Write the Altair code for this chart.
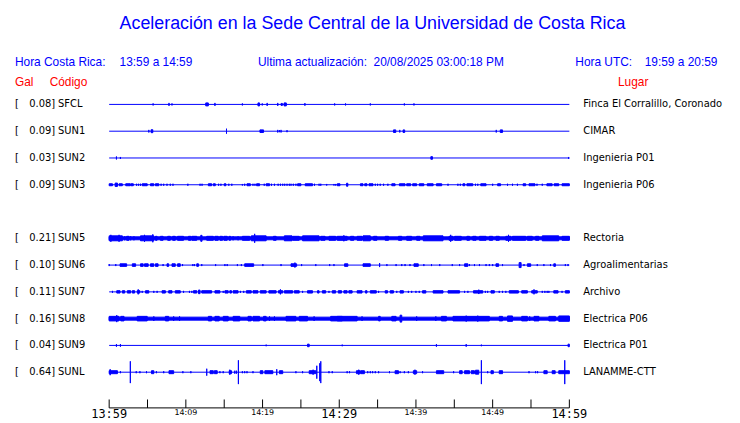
import altair as alt
import pandas as pd

BLUE = "#0000ff"
RED = "#ff0000"

# ---------------- data ----------------
stations = ["SFCL", "SUN1", "SUN2", "SUN3", "SUN5", "SUN6", "SUN7", "SUN8", "SUN9", "SUNL"]
gal = [0.08, 0.09, 0.03, 0.09, 0.21, 0.10, 0.11, 0.16, 0.04, 0.64]
places = ["Finca El Corralillo, Coronado", "CIMAR", "Ingenieria P01", "Ingenieria P06",
          "Rectoria", "Agroalimentarias", "Archivo", "Electrica P06", "Electrica P01", "LANAMME-CTT"]
rows = [0, 1, 2, 3, 5, 6, 7, 8, 9, 10]
record_start = 0     # minutes after 13:59
record_end = 60

tick_minutes = list(range(0, 61, 5))
label_minutes = [0, 10, 20, 30, 40, 50, 60]
label_texts = ["13:59", "14:09", "14:19", "14:29", "14:39", "14:49", "14:59"]
label_major = [True, False, False, True, False, False, True]

# events per trace: (start minute, end minute, half amplitude)
ev_SFCL = [(5.73, 5.73, 1), (7.80, 7.80, 1.5), (8.19, 8.19, 1), (12.59, 12.93, 1.5), (13.79, 13.79, 1.5),
           (17.37, 17.37, 1), (19.40, 19.61, 1.5), (19.96, 19.96, 1), (20.60, 20.60, 1.5), (21.98, 21.98, 1.5),
           (22.41, 22.59, 1), (22.80, 23.10, 1.5), (25.52, 25.52, 1.3), (29.40, 29.40, 1), (30.82, 30.82, 1),
           (34.05, 34.05, 1), (38.49, 38.49, 1), (39.74, 39.74, 1)]
ev_SUN1 = [(5.17, 5.17, 1.3), (5.47, 5.69, 1.5), (15.30, 15.30, 2.5), (19.66, 20.13, 1.3), (21.98, 21.98, 1.3),
           (22.20, 22.20, 1), (22.41, 22.41, 1.3), (23.19, 23.19, 1), (37.07, 37.37, 1.3), (37.89, 37.89, 1.3),
           (38.32, 38.53, 1.3), (50.47, 50.47, 1.3), (50.99, 51.29, 1.3)]
ev_SUN2 = [(0.95, 0.95, 1.5), (1.47, 1.47, 1), (41.94, 42.16, 1.3), (59.91, 59.91, 1)]
ev_SUN3 = [(0, 0.43, 1), (0.78, 1.08, 1.7), (1.29, 1.72, 1), (2.16, 2.72, 1), (2.80, 3.15, 1), (3.58, 3.58, 1),
           (3.84, 3.84, 1), (4.09, 4.09, 1), (4.31, 4.96, 1), (5.39, 5.82, 1), (6.03, 6.47, 1), (6.77, 6.77, 1),
           (7.11, 7.11, 1), (7.54, 7.54, 1), (7.97, 7.97, 1), (8.32, 8.32, 1), (10.26, 10.26, 1), (11.85, 11.85, 1),
           (12.11, 12.11, 1), (12.93, 13.36, 1), (13.58, 13.84, 1), (14.27, 14.27, 1), (14.57, 14.57, 1),
           (15.0, 15.22, 1), (15.60, 15.60, 1), (15.99, 15.99, 1), (17.37, 17.37, 0.8), (17.67, 17.67, 1),
           (17.97, 18.41, 1), (18.75, 18.75, 1), (19.01, 19.01, 1), (19.22, 19.61, 1), (20.22, 20.22, 1),
           (20.47, 20.91, 1), (21.16, 21.16, 1), (21.55, 21.55, 1), (22.03, 22.03, 1), (22.33, 22.33, 1),
           (22.63, 22.63, 1), (22.89, 22.89, 1), (23.19, 23.19, 1), (23.49, 23.49, 1), (23.71, 23.71, 1),
           (24.01, 24.01, 1), (24.35, 24.35, 1), (24.57, 25.0, 1), (25.56, 26.51, 1), (26.77, 26.77, 1),
           (27.37, 27.37, 1), (27.59, 27.59, 1), (28.36, 28.36, 0.8), (29.31, 29.31, 0.8), (29.53, 29.53, 0.8),
           (29.74, 30.09, 1), (30.95, 31.12, 1.5), (32.76, 33.10, 1), (33.32, 33.62, 1), (33.88, 34.40, 1),
           (34.70, 34.70, 1), (35.0, 35.0, 1), (35.34, 35.34, 1), (35.78, 35.78, 1), (36.34, 36.34, 1),
           (36.85, 37.28, 1), (37.84, 38.58, 1), (38.79, 39.31, 1), (39.57, 40.09, 1), (40.43, 41.03, 1),
           (41.47, 42.24, 1), (42.67, 43.36, 1), (44.18, 44.18, 1), (45.47, 45.47, 1), (45.78, 45.78, 1),
           (46.12, 46.38, 1), (46.64, 47.41, 1), (47.76, 47.76, 1), (48.06, 48.06, 1), (48.45, 49.14, 1),
           (50.0, 50.0, 1), (50.65, 51.03, 1), (51.94, 51.94, 1), (52.59, 52.59, 1), (53.23, 53.23, 1),
           (53.97, 54.31, 1), (54.74, 55.52, 1), (55.78, 55.78, 1), (56.47, 56.47, 1), (57.07, 57.76, 1),
           (58.02, 58.62, 1), (59.05, 60.0, 1)]
ev_SUN5 = [(0, 60, 1.5), (0, 1.72, 2.5), (0.22, 0.22, 3.5), (1.29, 1.29, 3.5), (2.03, 2.03, 2), (2.28, 2.59, 2),
           (2.80, 2.80, 2), (3.23, 3.23, 2), (4.09, 5.82, 2.5), (4.61, 4.61, 3.5), (5.69, 5.69, 4), (6.03, 6.25, 2),
           (6.68, 7.03, 2), (7.63, 7.97, 2), (8.28, 8.62, 2), (8.92, 9.70, 2), (10.34, 10.65, 2), (10.78, 11.42, 2),
           (11.94, 12.11, 3), (12.72, 13.58, 2), (13.79, 14.22, 2), (14.44, 14.78, 2), (14.96, 15.39, 2),
           (15.65, 15.82, 2), (16.16, 16.16, 2), (16.81, 16.81, 2), (17.37, 18.32, 2), (18.53, 20.47, 2.5),
           (18.97, 18.97, 4.5), (21.42, 21.77, 2), (22.84, 23.84, 2.5), (23.92, 24.78, 2), (25.22, 27.37, 2.5),
           (27.59, 28.15, 2), (28.66, 29.53, 2), (29.74, 31.03, 2), (30.60, 30.60, 3), (31.47, 31.90, 2),
           (32.33, 32.97, 2), (33.10, 34.05, 2.5), (34.48, 34.91, 2), (35.99, 36.42, 2), (37.72, 38.15, 2),
           (38.79, 39.44, 2), (40.09, 40.52, 2), (40.95, 43.53, 2.5), (44.31, 44.83, 2), (44.53, 44.53, 3.5),
           (45.04, 45.91, 2), (46.64, 46.98, 2), (47.41, 47.84, 2), (48.28, 49.14, 2), (49.57, 50.0, 2),
           (50.43, 50.86, 2), (51.72, 52.37, 2), (52.07, 52.07, 3.5), (52.59, 54.31, 2), (54.53, 55.17, 2),
           (55.60, 56.03, 2), (56.47, 58.62, 2.5), (59.05, 60.0, 2)]
ev_SUN6 = [(0.0, 0.0, 1), (0.86, 0.86, 1), (1.42, 2.28, 1.3), (3.02, 3.45, 1.3), (4.09, 4.44, 1.3), (4.61, 5.09, 1.3),
           (5.39, 5.82, 1.3), (6.03, 6.38, 1.3), (7.03, 7.03, 1), (7.54, 7.76, 1.3), (8.19, 8.62, 1.3), (8.92, 9.27, 1.3),
           (9.57, 9.57, 1), (10.91, 10.91, 1), (11.12, 11.12, 1), (11.42, 11.64, 1.3), (12.07, 12.07, 1),
           (13.88, 13.88, 1), (15.09, 15.09, 1), (15.39, 15.39, 1), (16.72, 16.72, 1), (17.24, 17.24, 1),
           (17.67, 18.84, 1.3), (20.04, 20.04, 1), (22.41, 22.41, 1), (23.71, 24.44, 1.3), (24.22, 24.22, 2.5),
           (25.09, 25.09, 1), (26.94, 26.94, 1), (28.75, 28.75, 1), (29.31, 29.31, 1), (30.69, 31.12, 1.3),
           (33.10, 34.05, 1.3), (35.26, 35.26, 2), (36.21, 36.21, 1), (37.41, 37.41, 1), (38.15, 38.15, 1),
           (38.58, 38.58, 1), (39.22, 39.22, 1), (39.74, 40.30, 1.3), (41.03, 41.03, 1), (42.03, 42.03, 1),
           (43.10, 43.10, 1), (44.74, 44.74, 1), (45.69, 45.69, 1), (46.34, 46.77, 1.3), (46.98, 46.98, 1),
           (47.63, 47.63, 1), (48.28, 48.28, 1), (49.14, 49.14, 1), (49.57, 49.57, 1), (50.0, 50.0, 1),
           (50.43, 50.78, 1.3), (51.29, 51.29, 1), (53.45, 53.71, 2.5), (54.09, 54.09, 1), (54.53, 54.96, 1.3),
           (55.82, 55.82, 1), (56.68, 56.68, 1), (57.54, 57.54, 1), (57.97, 58.19, 1.3), (59.48, 59.48, 1),
           (59.83, 59.83, 1)]
ev_SUN7 = [(0.43, 0.43, 1), (0.99, 1.42, 1.2), (1.72, 2.03, 1.2), (2.37, 2.80, 1.2), (3.02, 3.32, 1.2),
           (3.66, 4.01, 1.2), (3.79, 3.79, 2.5), (4.31, 4.31, 1), (4.74, 5.17, 1.2), (5.82, 5.82, 1), (6.25, 6.25, 1),
           (6.90, 7.33, 1.2), (7.76, 8.19, 1.2), (8.62, 9.27, 1.2), (9.70, 9.70, 1), (10.47, 10.47, 1),
           (10.78, 10.78, 1), (10.99, 11.42, 1.2), (11.64, 11.85, 1.8), (12.07, 13.36, 1.2), (13.79, 14.44, 1.2),
           (14.87, 14.87, 1), (15.09, 15.52, 1.2), (15.73, 15.95, 1.2), (16.16, 16.81, 1.2), (17.11, 17.11, 1),
           (17.54, 17.54, 1), (17.89, 18.53, 1.2), (18.75, 19.40, 1.2), (19.70, 20.47, 1.2), (20.82, 21.77, 1.2),
           (22.07, 22.63, 1.2), (22.33, 22.33, 2.5), (22.84, 23.92, 1.2), (24.14, 24.78, 1.2), (25.22, 25.22, 1),
           (25.86, 26.51, 1.2), (27.16, 27.37, 1.2), (27.80, 28.23, 1.2), (28.66, 28.66, 1), (29.09, 29.53, 1.2),
           (29.87, 30.30, 1.2), (30.60, 31.03, 1.2), (31.25, 31.68, 1.2), (32.33, 32.97, 1.2), (33.41, 33.62, 1.2),
           (34.05, 34.83, 1.2), (35.13, 35.13, 1), (35.99, 36.29, 1.2), (36.64, 37.07, 1.2), (37.50, 37.50, 1),
           (37.93, 38.36, 1.2), (39.01, 39.01, 1), (39.44, 39.44, 1), (40.0, 40.0, 1), (40.43, 40.43, 1),
           (40.86, 41.29, 1.2), (42.24, 43.53, 1.2), (44.18, 45.69, 1.2), (46.34, 46.34, 1), (46.77, 46.77, 1),
           (47.50, 48.71, 1.2), (48.19, 48.19, 2.2), (49.05, 49.05, 1), (49.35, 49.35, 1), (49.78, 50.22, 1.2),
           (50.86, 50.86, 1), (51.29, 51.29, 1), (51.72, 51.72, 1), (52.16, 53.36, 1.2), (53.79, 54.53, 1.2),
           (55.09, 55.82, 1.2), (55.39, 55.39, 2.5), (56.47, 56.47, 1), (56.81, 56.81, 1), (57.11, 57.11, 1),
           (57.33, 57.33, 1), (57.97, 58.53, 1.2), (59.05, 59.05, 1), (59.48, 60.0, 1.2)]
ev_SUN8 = [(0, 60, 1.5), (0, 1.29, 2.3), (0.99, 0.99, 3.5), (1.51, 1.94, 2.3), (3.66, 4.96, 2.3), (5.82, 5.82, 2.3),
           (7.33, 7.76, 2.3), (8.41, 8.41, 2.3), (9.18, 9.18, 2.3), (12.93, 13.36, 2.3), (13.79, 14.35, 2.3),
           (14.87, 15.52, 2.3), (16.16, 17.03, 2.3), (18.10, 18.53, 2.3), (18.75, 19.61, 2.3), (20.13, 20.47, 2.3),
           (20.91, 20.91, 2.3), (21.55, 21.55, 2.3), (23.06, 24.35, 2.3), (24.78, 25.86, 2.3), (26.72, 26.72, 2.3),
           (28.88, 30.39, 2.3), (29.74, 32.33, 2.3), (32.97, 32.97, 2.3), (35.13, 35.34, 2.3), (36.85, 37.41, 2.3),
           (37.93, 38.15, 3.5), (40.09, 40.09, 2.3), (42.59, 42.59, 2.3), (43.32, 43.97, 2.3), (44.83, 49.57, 2.3),
           (46.55, 46.55, 3), (48.06, 48.06, 3), (50.86, 51.29, 2.3), (51.94, 52.59, 2.7), (53.79, 54.53, 2.3),
           (54.83, 54.83, 2.3), (55.39, 56.03, 2.3), (57.33, 58.19, 2.3), (58.62, 60.0, 2.7)]
ev_SUN9 = [(0.95, 0.95, 1.3), (1.47, 1.47, 1.3), (20.47, 20.47, 0.8), (25.86, 26.08, 1.3), (30.39, 30.39, 0.8),
           (42.67, 42.67, 1.3), (46.55, 46.55, 1.3), (48.53, 48.53, 0.8), (59.83, 60.0, 1.3)]
ev_SUNL = [(0, 1.08, 1.5), (0.13, 0.13, 3), (1.47, 1.47, 1), (2.76, 2.76, 11), (3.53, 3.53, 1), (4.01, 4.01, 1),
           (4.87, 4.87, 1), (5.52, 5.82, 1.5), (6.16, 6.16, 1), (7.11, 7.11, 1), (7.80, 8.41, 1.5), (9.61, 9.61, 1),
           (10.65, 10.65, 1), (12.72, 12.72, 3.5), (13.15, 13.58, 1.5), (13.71, 14.09, 1.5), (14.44, 14.44, 1),
           (14.87, 14.87, 1), (15.65, 15.95, 1.5), (15.73, 15.73, 2.5), (16.38, 16.38, 1.5), (16.59, 16.59, 1.5),
           (16.85, 16.85, 12), (17.37, 17.37, 1), (17.67, 17.67, 1), (17.97, 17.97, 1), (18.75, 18.75, 1),
           (19.70, 20.04, 1.5), (20.30, 21.34, 1.5), (21.85, 21.85, 3), (22.20, 22.63, 1.5), (24.35, 24.35, 1),
           (25.22, 25.22, 1), (26.08, 26.94, 1.5), (26.59, 26.59, 2.5), (27.07, 27.07, 6.5), (27.46, 27.46, 9),
           (27.59, 27.59, 11), (28.66, 28.66, 1), (29.09, 29.09, 1), (31.03, 31.03, 1), (31.34, 31.34, 1),
           (32.24, 32.76, 1.5), (32.54, 32.54, 2.5), (32.84, 33.28, 1.5), (33.71, 33.71, 1), (34.05, 34.05, 1),
           (34.35, 34.35, 1), (34.70, 34.70, 1), (35.13, 35.13, 1), (36.55, 36.55, 1), (37.28, 37.72, 1.5),
           (37.93, 37.93, 1), (38.49, 38.49, 1), (39.01, 39.01, 1), (39.66, 40.09, 1.5), (39.87, 39.87, 2.5),
           (40.86, 40.86, 1), (42.67, 43.62, 1.5), (44.91, 44.91, 1), (45.69, 46.03, 1.5), (46.34, 46.98, 1.5),
           (47.20, 47.63, 1.5), (47.76, 48.19, 2), (48.53, 48.53, 12), (49.35, 49.35, 1), (49.78, 50.09, 1.5),
           (50.86, 51.29, 1.5), (54.74, 54.74, 1), (55.60, 55.60, 1), (55.86, 55.86, 1), (56.68, 57.11, 1.5),
           (57.76, 58.15, 1.5), (58.62, 60.0, 1.5), (59.40, 59.40, 12)]

events = {"SFCL": ev_SFCL, "SUN1": ev_SUN1, "SUN2": ev_SUN2, "SUN3": ev_SUN3, "SUN5": ev_SUN5,
          "SUN6": ev_SUN6, "SUN7": ev_SUN7, "SUN8": ev_SUN8, "SUN9": ev_SUN9, "SUNL": ev_SUNL}

# ---------------- tables ----------------
ROW_STEP = 27  # vertical units between traces
row_of = dict(zip(stations, rows))

st_df = pd.DataFrame({
    "code": stations,
    "galtxt": [f"{g:.2f}]" for g in gal],
    "place": places,
    "yc": [r * ROW_STEP for r in rows],
    "t0": record_start,
    "t1": record_end,
})

ev_rows = []
for code, lst in events.items():
    yc = row_of[code] * ROW_STEP
    for a, b, amp in lst:
        ev_rows.append({"code": code, "t0": a, "t1": b, "ylo": yc - amp, "yhi": yc + amp})
ev_df = pd.DataFrame(ev_rows)

tick_df = pd.DataFrame({"m": tick_minutes})
lab_df = pd.DataFrame({"m": label_minutes, "txt": label_texts, "major": label_major})

# ---------------- scales ----------------
xs = alt.Scale(domain=[0, 60], nice=False, zero=False)
ys = alt.Scale(domain=[-13.5, 316.5], reverse=True, nice=False, zero=False)

base_lines = alt.Chart(st_df).mark_rule(color=BLUE, strokeWidth=1).encode(
    x=alt.X("t0:Q", scale=xs, axis=None), x2="t1:Q",
    y=alt.Y("yc:Q", scale=ys, axis=None))

wiggles = alt.Chart(ev_df).mark_rect(color=BLUE, stroke=BLUE, strokeWidth=1).encode(
    x=alt.X("t0:Q", scale=xs, axis=None), x2="t1:Q",
    y=alt.Y("ylo:Q", scale=ys, axis=None), y2="yhi:Q")

def st_text(field, xpix, align):
    return alt.Chart(st_df).mark_text(align=align, baseline="middle", font="DejaVu Sans",
                                      fontSize=10, color="black").encode(
        text=f"{field}:N", x=alt.value(xpix), y=alt.Y("yc:Q", scale=ys, axis=None))

bracket = alt.Chart(st_df).mark_text(align="left", baseline="middle", font="DejaVu Sans",
                                     fontSize=10, color="black", text="[").encode(
    x=alt.value(-95), y=alt.Y("yc:Q", scale=ys, axis=None))
gal_txt = st_text("galtxt", -54.5, "right")
code_txt = st_text("code", -51.5, "left")
place_txt = st_text("place", 478, "left")

def hdr(s, x, y, color=BLUE, size=12, align="left"):
    return alt.Chart(pd.DataFrame({"s": [s]})).mark_text(
        align=align, baseline="middle", font="Liberation Sans", fontSize=size, color=color).encode(
        text="s:N", x=alt.value(x), y=alt.value(y))

headers = [
    hdr("Aceleración en la Sede Central de la Universidad de Costa Rica", 265.5, -68, size=18, align="center"),
    hdr("Hora Costa Rica:", -95, -29),
    hdr("13:59 a 14:59", 10.5, -29),
    hdr("Ultima actualización:\u00a0\u00a020/08/2025 03:00:18 PM", 150, -29),
    hdr("Hora UTC:", 470, -29),
    hdr("19:59 a 20:59", 540, -29),
    hdr("Gal", -95, -9, color=RED),
    hdr("Código", -60, -9, color=RED),
    hdr("Lugar", 513, -9, color=RED),
]

axis_line = alt.Chart(pd.DataFrame({"a": [0]})).mark_rule(color="black", strokeWidth=1).encode(
    x=alt.value(0), x2=alt.value(464), y=alt.value(319.5))
ticks = alt.Chart(tick_df).mark_rule(color="black", strokeWidth=1).encode(
    x=alt.X("m:Q", scale=xs, axis=None), y=alt.value(311), y2=alt.value(319.5))
major_lab = alt.Chart(lab_df).transform_filter("datum.major").mark_text(
    align="center", baseline="middle", font="DejaVu Sans Mono", fontSize=12, color="black").encode(
    x=alt.X("m:Q", scale=xs, axis=None), y=alt.value(325.5), text="txt:N")
minor_lab = alt.Chart(lab_df).transform_filter("!datum.major").mark_text(
    align="center", baseline="middle", font="DejaVu Sans", fontSize=8, color="black").encode(
    x=alt.X("m:Q", scale=xs, axis=None), y=alt.value(325), text="txt:N")

chart = alt.layer(
    base_lines, wiggles, bracket, gal_txt, code_txt, place_txt, *headers,
    axis_line, ticks, major_lab, minor_lab
).properties(
    width=464, height=330,
    autosize=alt.AutoSizeParams(type="none"),
    padding={"left": 102, "top": 82, "right": 164, "bottom": 2},
    background="white",
).configure_view(stroke=None)

chart.save("out.html", embed_options={"renderer": "svg", "actions": False})
